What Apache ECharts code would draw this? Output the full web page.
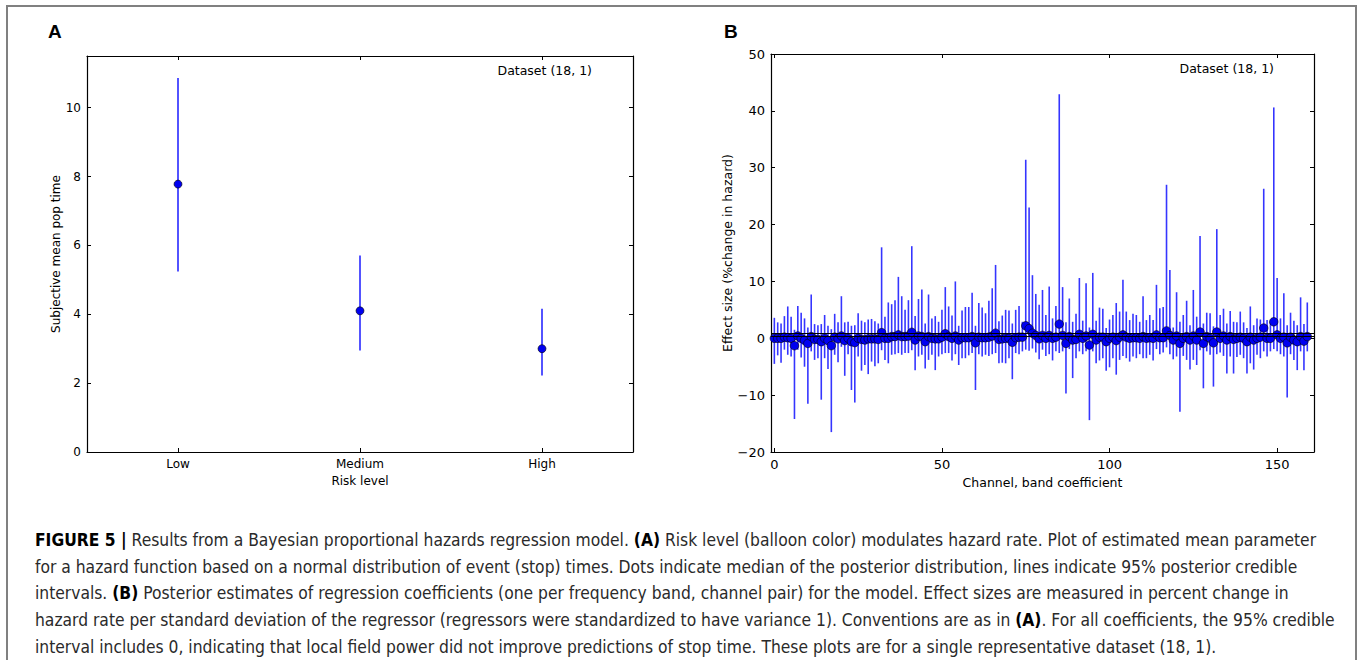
<!DOCTYPE html>
<html>
<head>
<meta charset="utf-8">
<script src="https://cdn.jsdelivr.net/npm/echarts@6/dist/echarts.min.js"></script>
<style>
  html, body { margin: 0; padding: 0; background: #fff; }
  #chart { width: 1360px; height: 660px; }
</style>
</head>
<body>
<div id="chart"></div>
<script>
// panel A: risk level estimates
const riskLevels = ['Low', 'Medium', 'High']
const riskMedian = [7.78, 4.1, 3.0]
const riskLow = [5.24, 2.95, 2.22]
const riskHigh = [10.86, 5.71, 4.16]

// panel B: 160 coefficients (channel, band)
const coefMedian = [
  0, 0, 0, 0.2, 0.1, 0, -1.3, 0.4, 0, -0.35,
  -0.9, 0.3, -0.2, -0.2, -0.6, 0, -0.4, -1.3, 0.2, -0.1,
  0.4, -0.4, 0, -0.6, -0.75, 0, -0.2, -0.3, -0.1, -0.1,
  -0.1, -0.2, 1.0, 0, 0, 0.3, 0.3, 0.6, 0.3, 0.3,
  0.4, 1.05, -0.3, 0.4, 0.3, -0.6, 0.3, 0, -0.1, -0.1,
  0.2, 0.8, 0.3, 0, 0.4, -0.3, 0.1, 0.1, 0.1, 0.3,
  -0.8, 0.2, 0.1, 0.1, 0.2, 0.4, 0.9, -0.2, -0.1, 0,
  0, -0.7, 0.1, 0.2, 0.2, 2.2, 1.7, 0.9, 0.5, -0.1,
  0.5, 0, 0.5, 0, 0.2, 2.5, 0.5, -0.9, 0.3, -0.3,
  -0.2, 0.7, 0, 0.4, -1.2, 0.7, -0.3, 0.2, 0.2, -0.6,
  0, 0.2, -0.4, 0.2, 0.6, 0.2, 0, 0.1, 0.1, 0,
  0.3, 0, 0.1, 0, 0.6, 0.1, 0.1, 1.3, 0.5, -0.3,
  0.4, -0.9, 0, 0.3, -0.3, 0.4, -0.3, 1.1, -0.9, 0.3,
  0, -0.8, 1.1, 0, 0.4, -0.3, 0.3, -0.2, 0, 0.2,
  0, -0.6, 0.2, -0.3, 0, 0.2, 1.8, 0, 0, 2.9,
  0.6, 0, 0.2, -0.8, 0.2, -0.3, -0.6, 0.3, -0.5, 0.3
]
const coefLow = [
  -4.5, -3.0, -4.3, -2.0, -2.9, -3.2, -14.2, -2.0, -3.4, -5.0,
  -11.5, -2.3, -3.8, -3.5, -10.8, -3.5, -5.4, -16.5, -2.9, -4.2,
  -1.5, -6.6, -2.8, -9.1, -11.3, -3.2, -5.7, -4.7, -6.3, -4.1,
  -4.9, -4.4, -2.1, -3.8, -4.4, -2.9, -2.8, -2.6, -2.9, -2.6,
  -2.6, -2.1, -5.6, -3.2, -2.9, -5.3, -3.8, -2.9, -5.6, -3.2,
  -2.8, -2.6, -2.6, -3.9, -2.8, -4.7, -3.5, -3.5, -3.0, -2.6,
  -9.1, -2.8, -3.2, -2.9, -3.1, -2.8, -2.6, -4.4, -4.3, -4.4,
  -3.5, -7.2, -2.6, -2.8, -2.3, -2.0, -2.2, -1.8, -2.5, -3.7,
  -2.0, -3.1, -2.8, -3.9, -2.3, -2.6, -2.3, -9.7, -1.9, -7.0,
  -3.5, -2.3, -2.8, -2.3, -14.4, -2.3, -4.4, -3.9, -3.5, -5.7,
  -5.1, -3.5, -6.4, -3.8, -3.1, -3.5, -4.1, -3.2, -3.5, -2.8,
  -3.5, -3.5, -2.9, -3.9, -1.9, -2.8, -2.5, -1.6, -2.8, -3.7,
  -3.2, -12.9, -3.1, -3.8, -5.5, -3.8, -4.7, -2.1, -8.8, -2.3,
  -2.9, -8.5, -2.8, -2.5, -3.1, -6.2, -3.2, -6.2, -3.3, -2.9,
  -3.5, -6.2, -4.4, -5.5, -2.9, -3.5, -2.3, -3.2, -2.3, -1.9,
  -2.3, -2.8, -3.2, -10.4, -2.8, -3.8, -5.6, -2.3, -5.6, -2.3
]
const coefHigh = [
  3.6, 2.8, 2.6, 3.9, 5.6, 3.8, 1.5, 5.7, 4.5, 3.5,
  1.9, 7.7, 2.5, 2.3, 2.5, 4.1, 2.2, 1.6, 4.3, 2.8,
  7.4, 2.8, 2.9, 2.2, 2.3, 4.4, 3.1, 2.8, 3.3, 3.4,
  3.0, 2.6, 16.0, 3.8, 6.3, 6.0, 6.7, 10.8, 7.4, 5.0,
  6.7, 16.2, 3.9, 6.9, 8.6, 2.6, 7.7, 3.5, 3.9, 2.9,
  5.0, 9.0, 5.6, 4.0, 10.0, 2.2, 4.9, 5.5, 5.5, 8.0,
  2.2, 6.2, 5.4, 4.4, 6.6, 8.8, 12.9, 3.0, 4.0, 5.0,
  4.9, 2.6, 5.0, 5.7, 2.9, 31.4, 23.0, 11.1, 7.8, 5.9,
  8.5, 4.1, 9.1, 3.5, 5.7, 42.9, 9.0, 2.8, 7.0, 2.9,
  4.3, 10.6, 3.1, 9.7, 1.9, 11.5, 3.1, 5.4, 5.2, 1.8,
  3.3, 4.1, 6.2, 4.7, 10.3, 4.7, 3.2, 4.3, 4.1, 2.9,
  7.4, 3.2, 4.1, 3.2, 9.4, 5.3, 5.5, 27.0, 12.0, 1.9,
  8.1, 2.9, 4.1, 6.6, 2.3, 8.5, 3.8, 18.0, 2.6, 4.5,
  4.4, 2.1, 19.2, 4.1, 5.2, 2.6, 4.8, 2.9, 2.8, 4.7,
  2.8, 1.8, 5.6, 2.3, 3.5, 3.3, 26.3, 3.2, 2.9, 40.6,
  10.6, 3.5, 7.9, 2.3, 4.5, 3.1, 2.3, 7.2, 2.5, 6.3
]
const refLines = [0.4, 0.9]
const yTicksA = [0, 2, 4, 6, 8, 10]
const xTicksB = [0, 50, 100, 150]

const chartDom = document.getElementById('chart')
const chart = echarts.init(chartDom, null, { renderer: 'svg' })

const tickFont = 'DejaVu Sans'
const dotColor = '#0000f0'
const barColor = '#3535ff'

const axisBase = (extra) => Object.assign({
    axisLine: { show: true, onZero: false, lineStyle: { color: '#000', width: 1.2 } },
    axisTick: { show: true, inside: true, length: 4, lineStyle: { color: '#000' } },
    splitLine: { show: false },
    axisLabel: { color: '#000', fontFamily: tickFont, fontSize: 12 }
}, extra)

const errorBar = (lineWidth) => (params, api) => {
    const x = api.value(0)
    const lo = api.coord([x, api.value(1)])
    const hi = api.coord([x, api.value(2)])
    return {
        type: 'line',
        shape: { x1: lo[0], y1: lo[1], x2: hi[0], y2: hi[1] },
        style: { stroke: barColor, lineWidth: lineWidth }
    }
}

const captionFont = '"DejaVu Sans Condensed", "Liberation Sans Narrow", sans-serif'
const captionLines = [
    '{b|FIGURE 5 |} Results from a Bayesian proportional hazards regression model. {b|(A)} Risk level (balloon color) modulates hazard rate. Plot of estimated mean parameter',
    'for a hazard function based on a normal distribution of event (stop) times. Dots indicate median of the posterior distribution, lines indicate 95% posterior credible',
    'intervals. {b|(B)} Posterior estimates of regression coefficients (one per frequency band, channel pair) for the model. Effect sizes are measured in percent change in',
    'hazard rate per standard deviation of the regressor (regressors were standardized to have variance 1). Conventions are as in {b|(A)}. For all coefficients, the 95% credible',
    'interval includes 0, indicating that local field power did not improve predictions of stop time. These plots are for a single representative dataset (18, 1).'
]

const option = {
    backgroundColor: '#fff',
    animation: false,
    grid: [
        { left: 87, right: 727, top: 56, bottom: 208 },
        { left: 771, right: 46, top: 54, bottom: 208 }
    ],
    xAxis: [
        axisBase({
            type: 'category', gridIndex: 0, data: riskLevels, boundaryGap: true,
            axisTick: { show: true, inside: true, length: 4, alignWithLabel: true, lineStyle: { color: '#000' } },
            axisLabel: { color: '#000', fontFamily: tickFont, fontSize: 12, margin: 6 },
            name: 'Risk level', nameLocation: 'middle', nameGap: 21,
            nameTextStyle: { color: '#000', fontFamily: tickFont, fontSize: 12 }
        }),
        axisBase({
            type: 'category', gridIndex: 0, data: riskLevels, boundaryGap: true, position: 'top',
            axisTick: { show: true, inside: true, length: 4, alignWithLabel: true, lineStyle: { color: '#000' } },
            axisLabel: { show: false }
        }),
        axisBase({
            type: 'value', gridIndex: 1, min: -1, max: 161,
            axisTick: { show: true, inside: true, length: 4, customValues: xTicksB, lineStyle: { color: '#000' } },
            axisLabel: { color: '#000', fontFamily: tickFont, fontSize: 13, margin: 6, customValues: xTicksB },
            name: 'Channel, band coefficient', nameLocation: 'middle', nameGap: 22,
            nameTextStyle: { color: '#000', fontFamily: tickFont, fontSize: 12.5 }
        }),
        axisBase({
            type: 'value', gridIndex: 1, min: -1, max: 161, position: 'top',
            axisTick: { show: true, inside: true, length: 4, customValues: xTicksB, lineStyle: { color: '#000' } },
            axisLabel: { show: false }
        })
    ],
    yAxis: [
        axisBase({
            type: 'value', gridIndex: 0, min: 0, max: 11.5,
            axisTick: { show: true, inside: true, length: 4, customValues: yTicksA, lineStyle: { color: '#000' } },
            axisLabel: { color: '#000', fontFamily: tickFont, fontSize: 12, margin: 6, customValues: yTicksA },
            name: 'Subjective mean pop time', nameLocation: 'middle', nameGap: 25, nameRotate: 90,
            nameTextStyle: { color: '#000', fontFamily: tickFont, fontSize: 12 }
        }),
        axisBase({
            type: 'value', gridIndex: 0, min: 0, max: 11.5, position: 'right',
            axisTick: { show: true, inside: true, length: 4, customValues: yTicksA, lineStyle: { color: '#000' } },
            axisLabel: { show: false }
        }),
        axisBase({
            type: 'value', gridIndex: 1, min: -20, max: 50, interval: 10,
            axisLabel: {
                color: '#000', fontFamily: tickFont, fontSize: 13, margin: 6,
                formatter: (v) => v < 0 ? '\u2212' + Math.abs(v) : String(v)
            },
            name: 'Effect size (%change in hazard)', nameLocation: 'middle', nameGap: 37, nameRotate: 90,
            nameTextStyle: { color: '#000', fontFamily: tickFont, fontSize: 12.5 }
        }),
        axisBase({
            type: 'value', gridIndex: 1, min: -20, max: 50, interval: 10, position: 'right',
            axisLabel: { show: false }
        })
    ],
    series: [
        {
            type: 'custom', xAxisIndex: 0, yAxisIndex: 0, z: 2,
            renderItem: errorBar(1.7),
            data: riskLevels.map((r, i) => [i, riskLow[i], riskHigh[i]])
        },
        {
            type: 'scatter', xAxisIndex: 0, yAxisIndex: 0, z: 4,
            symbolSize: 8,
            itemStyle: { color: dotColor, borderColor: '#000', borderWidth: 0.6, opacity: 1 },
            data: riskLevels.map((r, i) => [i, riskMedian[i]])
        },
        {
            type: 'custom', xAxisIndex: 2, yAxisIndex: 2, z: 2,
            renderItem: errorBar(1.6),
            data: coefMedian.map((m, i) => [i, coefLow[i], coefHigh[i]])
        },
        {
            type: 'line', xAxisIndex: 2, yAxisIndex: 2, z: 3, data: [],
            markLine: {
                silent: true, symbol: 'none', label: { show: false },
                lineStyle: { color: '#000', width: 1, type: 'solid' },
                data: refLines.map(v => ({ yAxis: v }))
            }
        },
        {
            type: 'scatter', xAxisIndex: 2, yAxisIndex: 2, z: 4,
            symbolSize: 8.5,
            itemStyle: { color: dotColor, borderColor: '#000', borderWidth: 0.6, opacity: 1 },
            data: coefMedian.map((m, i) => [i, m])
        }
    ],
    graphic: [
        {
            type: 'rect', silent: true, z: -1,
            shape: { x: 7, y: 6, width: 1349, height: 720 },
            style: { fill: 'none', stroke: '#808080', lineWidth: 2 }
        },
        { type: 'text', left: 48, top: 22, style: { text: 'A', font: 'bold 19px "Liberation Sans", sans-serif', fill: '#000' } },
        { type: 'text', left: 724, top: 22, style: { text: 'B', font: 'bold 19px "Liberation Sans", sans-serif', fill: '#000' } },
        {
            type: 'text', x: 592, y: 70,
            style: { text: 'Dataset (18, 1)', fontFamily: tickFont, fontSize: 12.5, fill: '#000', align: 'right', verticalAlign: 'middle' }
        },
        {
            type: 'text', x: 1274, y: 68,
            style: { text: 'Dataset (18, 1)', fontFamily: tickFont, fontSize: 12.5, fill: '#000', align: 'right', verticalAlign: 'middle' }
        }
    ].concat(captionLines.map((line, k) => ({
        type: 'text', x: 35, y: 540 + k * 26.7,
        style: {
            text: line, fontFamily: captionFont, fontSize: 17.3, fill: '#2a2a2a',
            verticalAlign: 'middle',
            rich: { b: { fontFamily: captionFont, fontSize: 17.3, fontWeight: 'bold', fill: '#000' } }
        }
    })))
}

chart.setOption(option)
window.addEventListener('resize', () => chart.resize())
</script>
</body>
</html>
